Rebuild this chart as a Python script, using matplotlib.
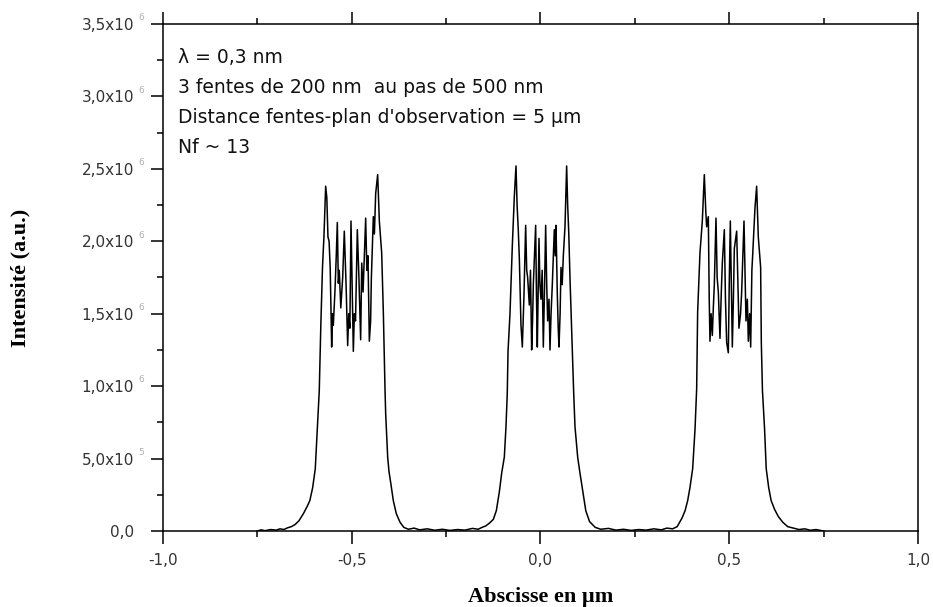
import numpy as np
import matplotlib.pyplot as plt
from matplotlib.ticker import MultipleLocator

# ---------------------------------------------------------
# DATA (x in µm, intensity in 1e6 a.u.)
# ---------------------------------------------------------

x_um = [
    -0.750, -0.740, -0.730, -0.715, -0.700, -0.690, -0.680, -0.670, -0.660, -0.650,
    -0.640, -0.628, -0.618, -0.611, -0.6035, -0.5966, -0.591, -0.586,
    # left slit
    -0.5820, -0.5775, -0.5735, -0.5691, -0.5660, -0.5630, -0.5600, -0.5570, -0.5532, -0.5510,
    -0.5488, -0.5444, -0.5410, -0.5382, -0.5355, -0.5330, -0.5290, -0.5240, -0.5197, -0.5150,
    -0.5108, -0.5080, -0.5050, -0.5020, -0.4990, -0.4958, -0.4930, -0.4900, -0.4852, -0.4810,
    -0.4764, -0.4735, -0.4700, -0.4631, -0.4600, -0.4570, -0.4534, -0.4500, -0.4480, -0.4428,
    -0.4400, -0.4366, -0.4313, -0.4269, -0.4207, -0.4163, -0.4119,
    -0.4101, -0.4048, -0.4013, -0.3960, -0.3899, -0.3820, -0.3720, -0.3620, -0.3500,
    -0.3350, -0.3200, -0.3000, -0.2800, -0.2600, -0.2400, -0.2200, -0.2000, -0.1800, -0.1650,
    -0.1550, -0.1450, -0.1350, -0.1250, -0.1170, -0.1090, -0.1028, -0.0958, -0.0914, -0.0880,
    # middle slit
    -0.0860, -0.0808, -0.0746, -0.0693, -0.0649, -0.0620, -0.0590, -0.0560, -0.0517, -0.0481,
    -0.0460, -0.0437, -0.0393, -0.0365, -0.0340, -0.0296, -0.0265, -0.0234, -0.0210, -0.0190,
    -0.0128, -0.0105, -0.0084, -0.0040, -0.0015, 0.0013, 0.0045, 0.0075, 0.0105, 0.0137,
    0.0165, 0.0190, 0.0225, 0.0252, 0.0280, 0.0313, 0.0366, 0.0390, 0.0411, 0.0446,
    0.0470, 0.0490, 0.0520, 0.0543, 0.0575, 0.0605, 0.0649, 0.0693, 0.0720, 0.0750,
    0.0781, 0.0843, 0.0880,
    0.0914, 0.0985, 0.1046, 0.1134, 0.1200, 0.1300, 0.1450, 0.1600,
    0.1800, 0.2000, 0.2200, 0.2400, 0.2600, 0.2800, 0.3000, 0.3200, 0.3350, 0.3500,
    0.3620, 0.3750, 0.3830, 0.3899, 0.3960, 0.4031, 0.4093, 0.4137,
    # right slit
    0.4163, 0.4225, 0.4287, 0.4340, 0.4380, 0.4402, 0.4446, 0.4470, 0.4490, 0.4520,
    0.4552, 0.4580, 0.4605, 0.4649, 0.4680, 0.4711, 0.4755, 0.4790, 0.4817, 0.4870,
    0.4900, 0.4932, 0.4976, 0.5000, 0.5029, 0.5082, 0.5110, 0.5135, 0.5197, 0.5230,
    0.5258, 0.5300, 0.5329, 0.5391, 0.5420, 0.5444, 0.5480, 0.5506, 0.5540, 0.5568,
    0.5600, 0.5620, 0.5682, 0.5726, 0.5770, 0.5832, 0.5850, 0.5880,
    0.5935, 0.5980, 0.6045, 0.6110, 0.6200, 0.6300, 0.6420, 0.6550, 0.6700, 0.6850,
    0.7000, 0.7150, 0.7300, 0.7500,
]

intensity_1e6 = [
    0.000, 0.008, 0.002, 0.010, 0.006, 0.015, 0.010, 0.022, 0.030, 0.045,
    0.070, 0.120, 0.170, 0.210, 0.300, 0.430, 0.710, 0.970,
    # left slit
    1.410, 1.820, 2.040, 2.380, 2.300, 2.030, 2.000, 1.810, 1.270, 1.500,
    1.420, 1.660, 1.900, 2.130, 1.710, 1.800, 1.540, 1.750, 2.070, 1.700,
    1.280, 1.500, 1.400, 2.140, 1.700, 1.240, 1.500, 1.450, 2.080, 1.750,
    1.320, 1.850, 1.650, 2.160, 1.800, 1.900, 1.310, 1.450, 1.750, 2.170,
    2.050, 2.330, 2.460, 2.140, 1.920, 1.510, 0.980,
    0.810, 0.510, 0.410, 0.320, 0.210, 0.120, 0.060, 0.025, 0.012,
    0.020, 0.008, 0.015, 0.005, 0.012, 0.004, 0.010, 0.006, 0.018, 0.012,
    0.025, 0.035, 0.055, 0.080, 0.140, 0.270, 0.400, 0.510, 0.720, 0.950,
    # middle slit
    1.240, 1.500, 1.970, 2.310, 2.520, 2.250, 2.090, 1.880, 1.420, 1.270,
    1.450, 1.630, 2.110, 1.800, 1.750, 1.560, 1.800, 1.250, 1.450, 1.700,
    2.110, 1.600, 1.270, 2.020, 1.700, 1.600, 1.800, 1.270, 1.650, 2.110,
    1.700, 1.450, 1.600, 1.250, 1.500, 1.700, 2.080, 1.900, 2.110, 1.630,
    1.400, 1.270, 1.500, 1.820, 1.700, 1.900, 2.100, 2.520, 2.250, 2.050,
    1.750, 1.240, 0.950,
    0.720, 0.510, 0.400, 0.250, 0.140, 0.065, 0.025, 0.012,
    0.018, 0.006, 0.012, 0.004, 0.010, 0.006, 0.015, 0.008, 0.020, 0.015,
    0.030, 0.090, 0.140, 0.210, 0.300, 0.430, 0.700, 0.980,
    # right slit
    1.510, 1.920, 2.140, 2.460, 2.200, 2.100, 2.170, 1.600, 1.310, 1.500,
    1.350, 1.550, 1.700, 2.160, 1.750, 1.650, 1.330, 1.650, 1.850, 2.080,
    1.600, 1.300, 1.230, 1.700, 2.140, 1.270, 1.600, 1.950, 2.070, 1.700,
    1.400, 1.500, 1.650, 2.140, 1.750, 1.450, 1.600, 1.310, 1.500, 1.270,
    1.800, 1.900, 2.230, 2.380, 2.030, 1.820, 1.300, 0.970,
    0.710, 0.430, 0.300, 0.210, 0.150, 0.100, 0.060, 0.030, 0.020, 0.010,
    0.015, 0.005, 0.010, 0.000,
]

y_ticks = [0.0, 0.5, 1.0, 1.5, 2.0, 2.5, 3.0, 3.5]
y_tick_labels = ['0,0', '5,0x10', '1,0x10', '1,5x10', '2,0x10', '2,5x10', '3,0x10', '3,5x10']
y_tick_exponents = ['', '5', '6', '6', '6', '6', '6', '6']

x_ticks = [-1.0, -0.5, 0.0, 0.5, 1.0]
x_tick_labels = ['-1,0', '-0,5', '0,0', '0,5', '1,0']

info_lines = [
    'λ = 0,3 nm',
    '3 fentes de 200 nm  au pas de 500 nm',
    "Distance fentes-plan d'observation = 5 µm",
    'Nf ~ 13',
]

# ---------------------------------------------------------
# PLOT
# ---------------------------------------------------------

fig = plt.figure(figsize=(9.33, 6.07), dpi=100)
ax = fig.add_axes([0.1747, 0.1252, 0.8092, 0.8353])

ax.plot(x_um, intensity_1e6, color='black', linewidth=1.1)

ax.set_xlim(-1.0, 1.0)
ax.set_ylim(0.0, 3.5)

for side in ['left', 'bottom', 'top', 'right']:
    ax.spines[side].set_linewidth(1.1)

ax.set_xticks(x_ticks)
ax.set_xticklabels(x_tick_labels)
ax.xaxis.set_minor_locator(MultipleLocator(0.25))
ax.set_yticks(y_ticks)
ax.set_yticklabels(y_tick_labels)
ax.yaxis.set_minor_locator(MultipleLocator(0.25))

ax.tick_params(axis='both', which='major', direction='out', length=9, width=1.1,
               labelsize=11, labelcolor='#333333')
ax.tick_params(axis='both', which='minor', direction='out', length=4.5, width=1.1)
ax.tick_params(axis='x', which='both', top=True, bottom=True, pad=7)
ax.tick_params(axis='y', which='both', left=True, right=False, pad=12)

# small grey exponents next to the y tick labels
for val, exp in zip(y_ticks, y_tick_exponents):
    if exp:
        ax.annotate(exp, xy=(0, val), xycoords=('axes fraction', 'data'),
                    xytext=(-17.5, 4.5), textcoords='offset points',
                    fontsize=6.5, color='#b0b0b0', ha='left', va='center')

# info text block
for i, line in enumerate(info_lines):
    ax.text(0.02, 0.934 - i * 0.0595, line, transform=ax.transAxes,
            fontsize=13.5, family='DejaVu Sans', ha='left', va='center', color='#111111')

ax.set_xlabel('Abscisse en µm', fontsize=16, fontweight='bold', family='Liberation Serif')
ax.set_ylabel('Intensité (a.u.)', fontsize=16, fontweight='bold', family='Liberation Serif')
ax.xaxis.set_label_coords(0.5, -0.130)
ax.xaxis.label.set_va('center')
ax.yaxis.set_label_coords(-0.189, 0.5)
ax.yaxis.label.set_va('center')

plt.savefig('out.png', dpi=100)
